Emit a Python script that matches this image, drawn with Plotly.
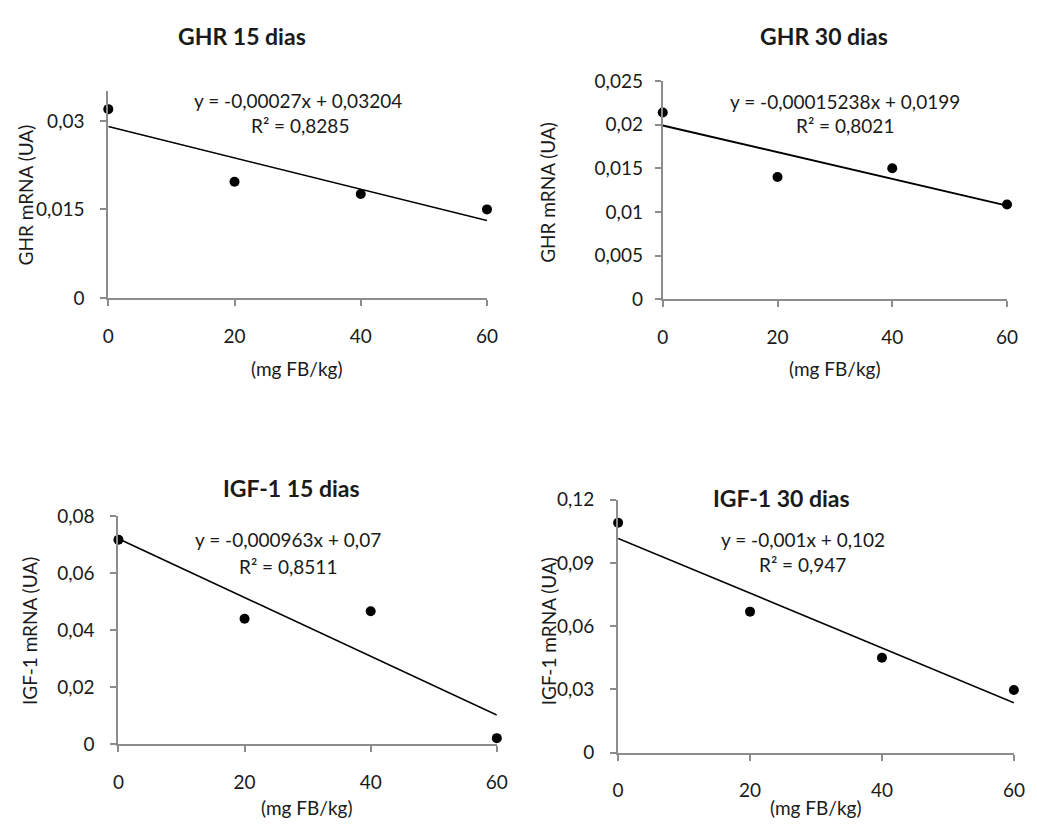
import numpy as np
import plotly.graph_objects as go

# ---------------- data ----------------
doses = [0, 20, 40, 60]
ghr15 = [0.0320, 0.0197, 0.0176, 0.0150]
ghr30 = [0.0214, 0.0140, 0.0150, 0.01085]
igf15 = [0.0718, 0.0441, 0.0467, 0.0022]
igf30 = [0.1091, 0.0669, 0.0450, 0.0297]

titles = ["GHR 15 dias", "GHR 30 dias", "IGF-1 15 dias", "IGF-1 30 dias"]
ytitles = ["GHR mRNA (UA)", "GHR mRNA (UA)", "IGF-1 mRNA (UA)", "IGF-1 mRNA (UA)"]
xtitle = "(mg FB/kg)"
equations = ["y = -0,00027x + 0,03204", "y = -0,00015238x + 0,0199",
             "y = -0,000963x + 0,07", "y = -0,001x + 0,102"]
r2_texts = ["R² = 0,8285", "R² = 0,8021", "R² = 0,8511", "R² = 0,947"]

x_ticks = [0, 20, 40, 60]
x_ticktext = ["0", "20", "40", "60"]
y_ticks = [
    [0, 0.015, 0.03],
    [0, 0.005, 0.01, 0.015, 0.02, 0.025],
    [0, 0.02, 0.04, 0.06, 0.08],
    [0, 0.03, 0.06, 0.09, 0.12],
]
y_ticktext = [
    ["0", "0,015", "0,03"],
    ["0", "0,005", "0,01", "0,015", "0,02", "0,025"],
    ["0", "0,02", "0,04", "0,06", "0,08"],
    ["0", "0,03", "0,06", "0,09", "0,12"],
]
y_max = [0.035, 0.025, 0.08, 0.12]
series = [ghr15, ghr30, igf15, igf30]

# ---------------- layout geometry (pixels) ----------------
W, H = 1037, 830
def px(x):
    return x / W
def py(y):
    return 1 - y / H

# plot boxes: (left, right, top, bottom) in pixels
boxes = [
    (104, 489, 81.7, 294),
    (667.7, 1017.7, 71, 295.3),
    (114.3, 499, 518.7, 753.3),
    (622.3, 1024.7, 501.7, 761.7),
]
title_pos = [(240, 25), (832, 25), (290, 490), (788, 500)]
eq_pos = [(297, 91), (853, 92), (287, 543), (810, 543)]
r2_pos = [(299, 117), (853, 117), (287, 570), (810, 568)]
ytitle_pos = [(20, 188), (551, 185), (24, 637), (551, 637)]
xtitle_pos = [(296, 367), (843, 367), (306, 818), (823, 818)]
ystandoff = [12, 8, 12, 12]

FONT = "Lato"
TXT = "#1a1a1a"
AXC = "#8c8c8c"
FS = 19

fig = go.Figure()
layout = dict(
    width=W, height=H,
    margin=dict(l=0, r=0, t=0, b=0),
    paper_bgcolor="white", plot_bgcolor="white",
    showlegend=False,
    separators=",.",
    font=dict(family=FONT, color=TXT, size=FS),
)
annotations = []

for i in range(4):
    ax = "" if i == 0 else str(i + 1)
    xa, ya = "x" + ax, "y" + ax
    yvals = series[i]
    slope, intercept = np.polyfit(doses, yvals, 1)
    xl = [doses[0], doses[-1]]
    yl = [intercept + slope * v for v in xl]
    fig.add_trace(go.Scatter(
        x=xl, y=yl, mode="lines",
        line=dict(color="black", width=2 if i == 1 else 1.6),
        xaxis=xa, yaxis=ya, cliponaxis=False, hoverinfo="skip"))
    fig.add_trace(go.Scatter(
        x=doses, y=yvals, mode="markers",
        marker=dict(color="black", size=10),
        xaxis=xa, yaxis=ya, cliponaxis=False))

    l, r, t, b = boxes[i]
    layout["xaxis" + ax] = dict(
        domain=[px(l), px(r)], anchor=ya, range=[0, 60],
        tickvals=x_ticks, ticktext=x_ticktext,
        showgrid=False, zeroline=False, showline=True, linecolor=AXC, linewidth=2,
        ticks="outside", ticklen=6, tickwidth=2, tickcolor=AXC,
        ticklabelstandoff=14, tickfont=dict(size=FS, family=FONT, color=TXT),
        fixedrange=True)
    layout["yaxis" + ax] = dict(
        domain=[py(b), py(t)], anchor=xa, range=[0, y_max[i]],
        tickvals=y_ticks[i], ticktext=y_ticktext[i],
        showgrid=False, zeroline=False, showline=True, linecolor=AXC, linewidth=2,
        ticks="outside", ticklen=6, tickwidth=2, tickcolor=AXC,
        ticklabelstandoff=ystandoff[i], tickfont=dict(size=FS, family=FONT, color=TXT),
        fixedrange=True)

    annotations.append(dict(text="<b>" + titles[i] + "</b>", x=px(title_pos[i][0]), y=py(title_pos[i][1]),
                            xref="paper", yref="paper", showarrow=False,
                            xanchor="center", yanchor="middle",
                            font=dict(size=23, family=FONT, color=TXT)))
    annotations.append(dict(text=equations[i], x=px(eq_pos[i][0]), y=py(eq_pos[i][1]),
                            xref="paper", yref="paper", showarrow=False,
                            xanchor="center", yanchor="middle",
                            font=dict(size=FS, family=FONT, color=TXT)))
    annotations.append(dict(text=r2_texts[i], x=px(r2_pos[i][0]), y=py(r2_pos[i][1]),
                            xref="paper", yref="paper", showarrow=False,
                            xanchor="center", yanchor="middle",
                            font=dict(size=FS, family=FONT, color=TXT)))
    annotations.append(dict(text=ytitles[i], x=px(ytitle_pos[i][0]), y=py(ytitle_pos[i][1]),
                            xref="paper", yref="paper", showarrow=False, textangle=-90,
                            xanchor="center", yanchor="middle",
                            font=dict(size=FS, family=FONT, color=TXT)))
    annotations.append(dict(text=xtitle, x=px(xtitle_pos[i][0]), y=py(xtitle_pos[i][1]),
                            xref="paper", yref="paper", showarrow=False,
                            xanchor="center", yanchor="middle",
                            font=dict(size=FS, family=FONT, color=TXT)))

layout["annotations"] = annotations
fig.update_layout(**layout)
fig.write_html("out.html",
               config={"displayModeBar": False},
               post_script="document.body.style.margin='0';document.body.style.overflow='hidden';")
